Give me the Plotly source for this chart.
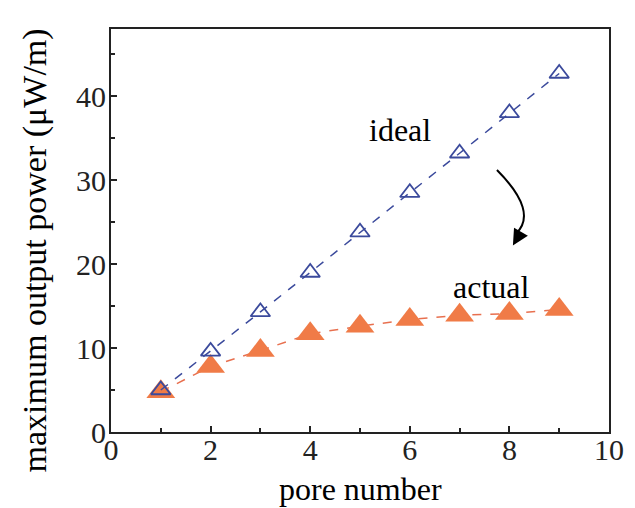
import plotly.graph_objects as go

pore_number = [1, 2, 3, 4, 5, 6, 7, 8, 9]
ideal_power = [5.0, 9.6, 14.3, 19.0, 23.8, 28.5, 33.2, 38.0, 42.7]
actual_power = [4.8, 7.8, 9.7, 11.7, 12.6, 13.4, 13.9, 14.1, 14.6]

x_ticks = [0, 2, 4, 6, 8, 10]
y_ticks = [0, 10, 20, 30, 40]

FONT = "Liberation Serif"
BLUE = "#3b4a9c"
ORANGE = "#f07b47"
ORANGE_LINE = "#e8704f"

fig = go.Figure()

fig.add_trace(go.Scatter(
    x=pore_number, y=actual_power, mode="lines+markers",
    line=dict(color=ORANGE_LINE, width=1.5, dash="dash"),
    marker=dict(symbol="triangle-up", size=25, color=ORANGE, line=dict(width=0)),
    showlegend=False,
))
fig.add_trace(go.Scatter(
    x=pore_number, y=ideal_power, mode="lines+markers",
    line=dict(color=BLUE, width=1.5, dash="dash"),
    marker=dict(symbol="triangle-up-open", size=17, color=BLUE, line=dict(width=1.8)),
    showlegend=False,
))

# curved arrow
fig.add_shape(type="path", xref="x", yref="y",
              path="M 7.75,31.2 Q 8.59,26.2 8.13,23.6",
              line=dict(color="black", width=2))
fig.add_annotation(x=8.07, y=22.2, xref="x", yref="y", ax=7, ay=-12,
                   showarrow=True, arrowhead=2, arrowsize=1.6, arrowwidth=2,
                   arrowcolor="black", text="")

fig.add_annotation(x=5.8, y=36.0, xref="x", yref="y", text="ideal", showarrow=False,
                   xanchor="center", yanchor="middle",
                   font=dict(family=FONT, size=32, color="black"))
fig.add_annotation(x=7.65, y=17.3, xref="x", yref="y", text="actual", showarrow=False,
                   xanchor="center", yanchor="middle",
                   font=dict(family=FONT, size=32, color="black"))

fig.add_annotation(x=-0.153, y=0.45, xref="paper", yref="paper", textangle=-90,
                   xanchor="center", yanchor="middle",
                   text="maximum output power (\u03bcW/m)", showarrow=False,
                   font=dict(family=FONT, size=34, color="black"))
fig.add_annotation(x=0.50, y=-0.141, xref="paper", yref="paper",
                   xanchor="center", yanchor="middle",
                   text="pore number", showarrow=False,
                   font=dict(family=FONT, size=32, color="black"))

axis_common = dict(
    showgrid=False, zeroline=False, showline=True, linecolor="#222222", linewidth=2,
    mirror=True, ticks="inside", tickcolor="#222222", tickwidth=1.5, ticklen=6,
    tickfont=dict(family=FONT, size=30, color="#222222"),
)

fig.update_xaxes(range=[0, 10], tickvals=x_ticks, ticktext=[str(v) for v in x_ticks],
                 ticklabelstandoff=-10,
                 minor=dict(dtick=1, ticks="inside", ticklen=4, tickcolor="#222222", tickwidth=1.5),
                 **axis_common)
fig.update_yaxes(range=[0, 48], tickvals=y_ticks, ticktext=[str(v) for v in y_ticks],
                 ticklabelstandoff=-3,
                 minor=dict(dtick=5, ticks="inside", ticklen=4, tickcolor="#222222", tickwidth=1.5),
                 **axis_common)

# page body adds an 8px offset, so the figure is drawn 8px smaller
fig.update_layout(
    width=627, height=500,
    margin=dict(l=103, r=26, t=21, b=76),
    paper_bgcolor="white", plot_bgcolor="white",
    font=dict(family=FONT, color="black"),
)

fig.write_html("out.html")
